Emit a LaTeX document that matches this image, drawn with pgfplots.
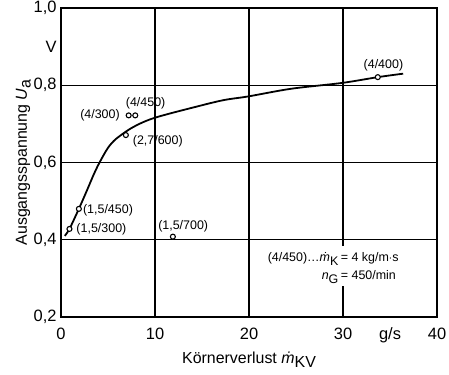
\documentclass[border=0pt]{standalone}
\usepackage{fontspec}
\setmainfont{Liberation Sans}
\usepackage{pgfplots}
\pgfplotsset{compat=1.18}
\begin{document}
\begin{tikzpicture}
\begin{axis}[
  scale only axis,
  width=376bp, height=309bp,
  xmin=0, xmax=40, ymin=0.2, ymax=1.0,
  xtick={0,10,20,30,40}, ytick={0.2,0.4,0.6,0.8,1.0},
  extra x ticks={35}, extra x tick labels={g/s},
  extra y ticks={0.9}, extra y tick labels={V},
  extra x tick style={grid=none}, extra y tick style={grid=none},
  major tick length=0pt,
  grid=major,
  major grid style={black, line width=1.1pt},
  axis line style={black, line width=1.4pt},
  /pgf/number format/assume math mode=true,
  /pgf/number format/.cd, use comma, fixed, fixed zerofill, precision=1,
  /pgfplots/.cd,
  xticklabel style={font=\fontsize{16.5}{18}\selectfont, yshift=-7bp},
  yticklabel style={font=\fontsize{16.5}{18}\selectfont, xshift=-1bp},
  xticklabel={\pgfmathprintnumber[fixed,precision=0]{\tick}},
  label style={font=\fontsize{16}{18}\selectfont},
  xlabel={Körnerverlust {\itshape ṁ}\raisebox{-0.45ex}{KV}},
  ylabel={Ausgangsspannung {\itshape U}\raisebox{-0.45ex}{a}},
  xlabel style={yshift=-2bp},
  ylabel style={yshift=-4bp},
  clip=false,
]
\addplot[black, line width=1.8pt, smooth, tension=0.5] coordinates {
(0.4,0.41)(0.9,0.428)(1.9,0.48)(2.8,0.53)(3.5,0.57)(4.1,0.6)(5.0,0.638)(5.9,0.662)(7.7,0.692)(10,0.716)(14.8,0.747)(17.4,0.762)(19.9,0.771)(24.5,0.791)(29.9,0.806)(33.7,0.821)(36.4,0.83)
};
\addplot[only marks, mark=*, mark size=2.5bp, mark options={fill=white, draw=black, line width=1.1pt}] coordinates {
(0.9,0.428)(1.9,0.48)(11.9,0.408)(6.9,0.671)(7.2,0.722)(7.9,0.722)(33.7,0.821)
};
\fill[white] (axis cs:29.5,0.383) rectangle (axis cs:30.5,0.28);
\begin{scope}[every node/.style={font=\fontsize{12.5}{14}\selectfont, inner sep=1pt}]
\node at (axis cs:34.3,0.852) {(4/400)};
\node at (axis cs:9.0,0.753) {(4/450)};
\node at (axis cs:4.15,0.722) {(4/300)};
\node at (axis cs:10.3,0.655) {(2,7/600)};
\node at (axis cs:5.0,0.477) {(1,5/450)};
\node at (axis cs:4.3,0.428) {(1,5/300)};
\node at (axis cs:13.0,0.435) {(1,5/700)};
\node[fill=white, anchor=base east, inner xsep=0pt] at (axis cs:29.75,0.343) {(4/450)…{\itshape ṁ}\raisebox{-0.5ex}{K}\,};
\node[fill=white, anchor=base west, inner xsep=0pt] at (axis cs:29.75,0.343) {= 4 kg/m$\cdot$s};
\node[fill=white, anchor=base east, inner xsep=0pt] at (axis cs:29.75,0.297) {{\itshape n}\raisebox{-0.6ex}{G}\,};
\node[fill=white, anchor=base west, inner xsep=0pt] at (axis cs:29.75,0.297) {= 450/min};
\end{scope}
\coordinate (bl) at (rel axis cs:0,0);
\coordinate (tr) at (rel axis cs:1,1);
\end{axis}
\pgfresetboundingbox
\path[use as bounding box] ([shift={(-61bp,-57bp)}]bl) rectangle ([shift={(12bp,8bp)}]tr);
\end{tikzpicture}
\end{document}
